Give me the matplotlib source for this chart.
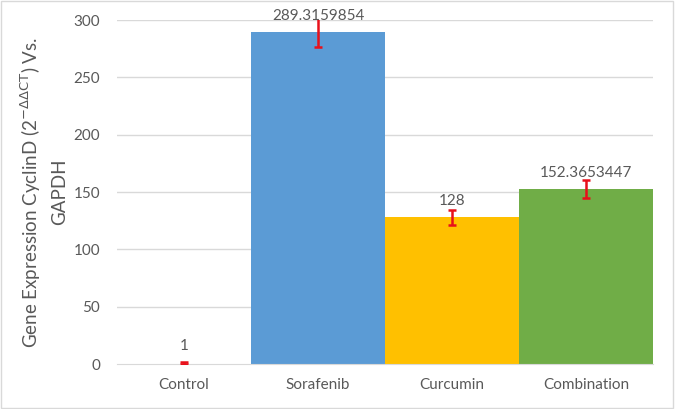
import matplotlib
matplotlib.use("Agg")
import matplotlib.pyplot as plt
from matplotlib.patches import Rectangle

plt.rcParams['font.family'] = ['Lato', 'DejaVu Sans']

groups = ["Control", "Sorafenib", "Curcumin", "Combination"]
values = [1, 289.3159854, 128, 152.3653447]
errors = [0.6, 13, 6.5, 8]
labels = ["1", "289.3159854", "128", "152.3653447"]
colors = ["white", "#5B9BD5", "#FFC000", "#70AD47"]

fig = plt.figure(figsize=(6.75, 4.09), dpi=100)
ax = fig.add_axes([117 / 675, 45 / 409, 536 / 675, 344 / 409])

x = range(len(groups))
ax.bar(x, values, width=1.0, color=colors, zorder=2)
ax.errorbar(x, values, yerr=errors, fmt="none", ecolor="#E8101A",
            elinewidth=1.8, capsize=3, capthick=1.8, zorder=3)
for i, v in enumerate(values):
    ax.annotate(labels[i], (i, v), xytext=(0, 7), textcoords="offset points",
                ha="center", va="bottom", fontsize=11, color="#595959", zorder=4)

ax.set_xlim(-0.5, 3.5)
ax.set_ylim(0, 300)
ax.set_yticks(range(0, 301, 50))
ax.set_xticks(list(x))
ax.set_xticklabels(groups)
ax.tick_params(axis="both", length=0, colors="#595959", labelsize=11)
ax.tick_params(axis="x", pad=10)
ax.tick_params(axis="y", pad=12)
ax.grid(axis="y", color="#D9D9D9", linewidth=1, zorder=0)
ax.set_axisbelow(True)
for s in ["top", "right", "left"]:
    ax.spines[s].set_visible(False)
ax.spines["bottom"].set_color("#D9D9D9")
ax.set_ylabel("Gene Expression CyclinD (2$^{\\mathrm{-\\Delta\\Delta CT}}$) Vs.\nGAPDH",
              fontsize=13.5, color="#595959", labelpad=4, linespacing=1.6)

fig.patches.append(Rectangle((0.002, 0.003), 0.995, 0.994, transform=fig.transFigure,
                             fill=False, edgecolor="#D9D9D9", linewidth=1))

fig.savefig("out.png", dpi=100)
